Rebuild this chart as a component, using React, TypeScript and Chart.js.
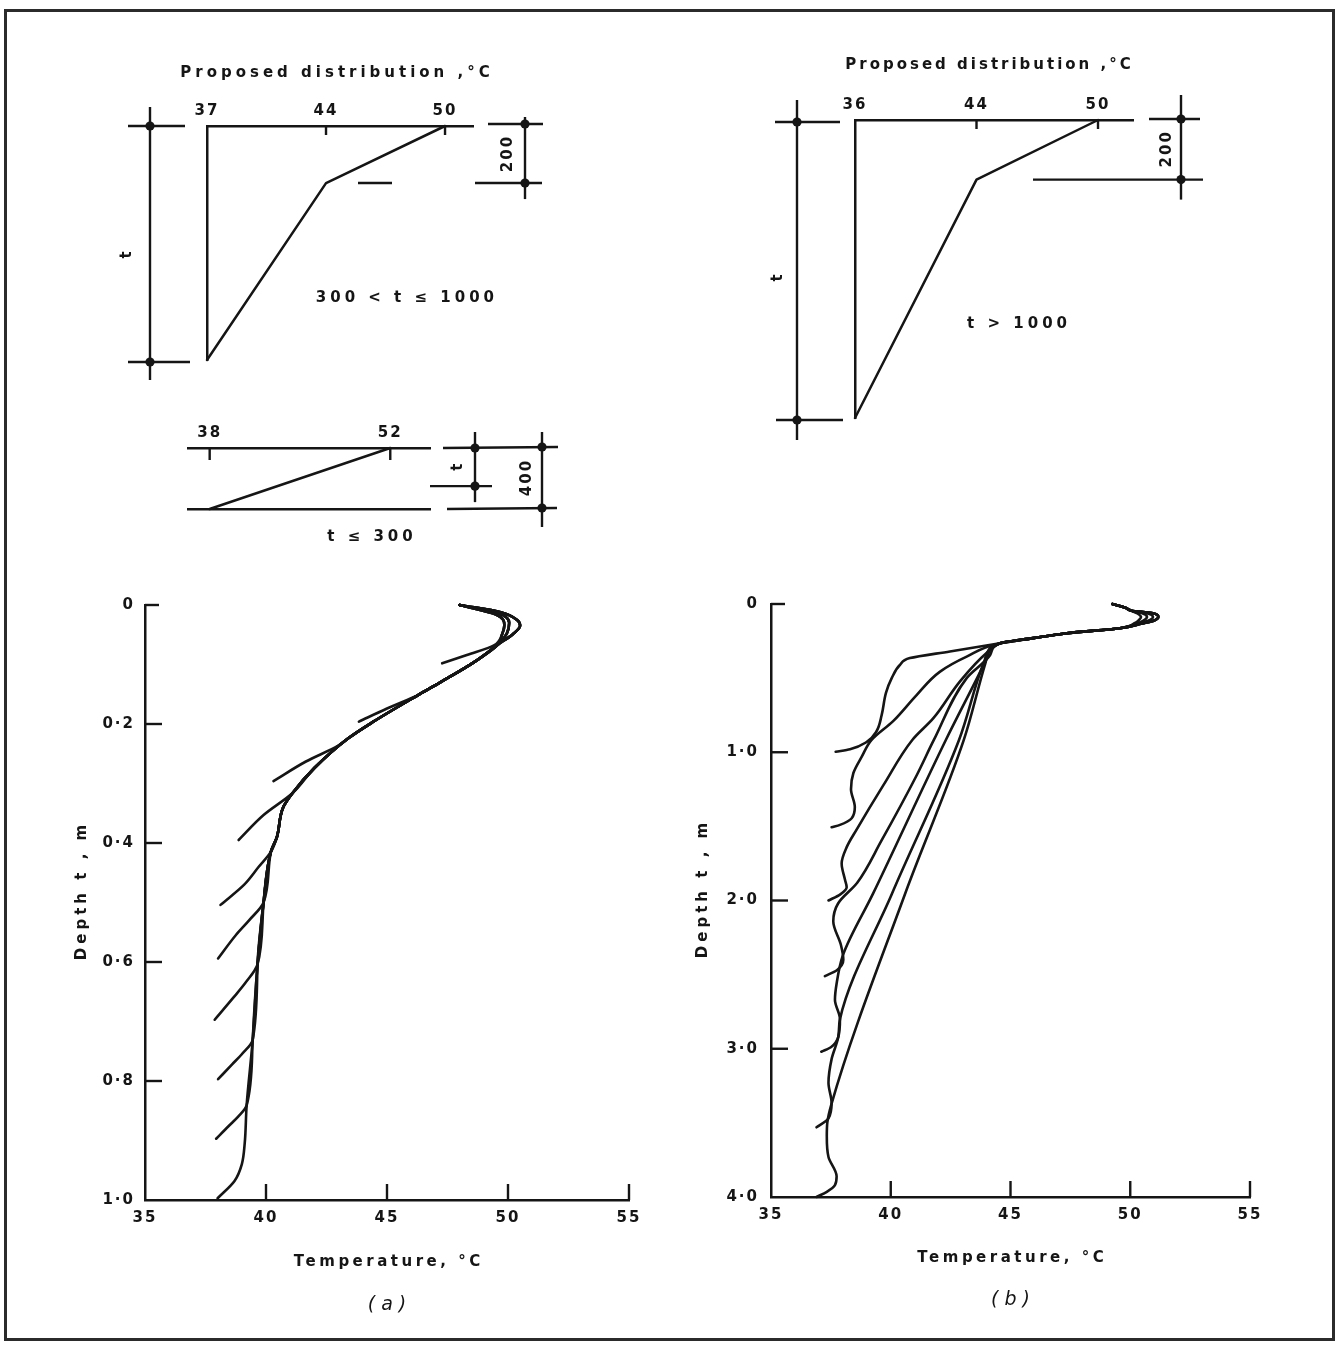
import React, { useEffect, useRef } from 'react';
import { Chart, registerables } from 'chart.js';

Chart.register(...registerables);

const INK = '#151515';
const FAMILY = '"DejaVu Sans", "Liberation Sans", Arial, sans-serif';
const BOLD15 = `bold 15px ${FAMILY}`;

// ================= main charts: axes =================
const TEMP_TICKS = [35, 40, 45, 50, 55];
const TEMP_TICK_LABELS = ['35', '40', '45', '50', '55'];
const DEPTH_TICKS_A = [0, 0.2, 0.4, 0.6, 0.8, 1.0];
const DEPTH_LABELS_A = ['0', '0·2', '0·4', '0·6', '0·8', '1·0'];
const DEPTH_TICKS_B = [0, 1, 2, 3, 4];
const DEPTH_LABELS_B = ['0', '1·0', '2·0', '3·0', '4·0'];

type P = [number, number]; // [temperature °C, depth m]

// ================= (a) slab thickness 0.1 ... 1.0 m =================
const A_THICKNESS = [0.1, 0.2, 0.3, 0.4, 0.5, 0.6, 0.7, 0.8, 0.9, 1.0];
const A_TOP_INNER: P[] = [[48.0, 0.0], [49.5, 0.016], [49.85, 0.034], [49.75, 0.05]];
const A_TOP_MID: P[] = [[48.0, 0.0], [49.6, 0.014], [50.05, 0.03], [49.95, 0.048]];
const A_TOP_OUTER: P[] = [[48.0, 0.0], [49.7, 0.012], [50.4, 0.026], [50.5, 0.035], [50.2, 0.049]];
const A_COMMON: P[] = [
  [49.6, 0.066], [48.6, 0.096], [47.2, 0.13], [46.3, 0.151], [44.4, 0.197], [43.4, 0.224],
  [42.0, 0.274], [41.1, 0.316], [40.7, 0.341], [40.45, 0.39], [40.2, 0.415], [39.9, 0.5],
  [39.65, 0.604], [39.45, 0.731], [39.2, 0.841], [39.12, 0.905], [39.0, 0.94], [38.7, 0.968], [38.0, 0.997],
];
const A_LEAVE_AT = [0.05, 0.151, 0.224, 0.316, 0.415, 0.5, 0.604, 0.731, 0.841, 1.0];
const A_TAILS: P[][] = [
  [[49.42, 0.068], [48.3, 0.084], [47.28, 0.098]],
  [[45.0, 0.174], [43.84, 0.196]],
  [[43.0, 0.236], [41.65, 0.263], [40.31, 0.296]],
  [[39.9, 0.353], [38.87, 0.395]],
  [[39.7, 0.44], [39.1, 0.47], [38.12, 0.504]],
  [[39.3, 0.53], [38.75, 0.555], [38.02, 0.594]],
  [[39.15, 0.635], [38.65, 0.66], [37.88, 0.697]],
  [[39.0, 0.755], [38.6, 0.772], [38.02, 0.797]],
  [[38.85, 0.86], [38.45, 0.876], [37.94, 0.897]],
  [],
];
const A_TOPS = [A_TOP_INNER, A_TOP_MID, A_TOP_OUTER];
const A_TOP_OF = [0, 1, 2, 0, 1, 2, 0, 1, 2, 2];

// ================= (b) slab thickness 1.0 ... 4.0 m =================
const B_THICKNESS = [1.0, 1.5, 2.0, 2.5, 3.0, 3.5, 4.0];
const B_START: P[] = [[49.25, 0.0], [49.8, 0.025], [50.05, 0.045]];
const B_LOOPS: P[][] = [
  [[50.3, 0.064], [50.45, 0.088], [50.35, 0.11], [50.2, 0.128]],
  [[50.5, 0.063], [50.7, 0.088], [50.55, 0.112], [50.3, 0.129]],
  [[50.7, 0.062], [50.95, 0.088], [50.75, 0.113], [50.4, 0.13]],
  [[50.9, 0.061], [51.17, 0.088], [50.95, 0.114], [50.5, 0.131]],
];
const B_LOOP_OF = [0, 1, 2, 3, 3, 3, 3];
const B_COMMON: P[] = [[49.57, 0.163], [47.35, 0.197], [45.95, 0.23], [44.56, 0.265]];
const B_TAILS: P[][] = [
  [[42.47, 0.32], [40.8, 0.365], [40.39, 0.41], [40.04, 0.5], [39.8, 0.6], [39.62, 0.75], [39.4, 0.86], [39.0, 0.93], [38.3, 0.98], [37.7, 0.997]],
  [[43.17, 0.355], [42.06, 0.456], [41.08, 0.614], [40.1, 0.79], [39.2, 0.917], [38.79, 1.03], [38.44, 1.14], [38.34, 1.25], [38.5, 1.37], [38.37, 1.445], [37.88, 1.49], [37.53, 1.506]],
  [[44.0, 0.33], [42.9, 0.52], [41.78, 0.77], [40.9, 0.917], [39.7, 1.22], [38.58, 1.52], [38.16, 1.64], [37.95, 1.75], [38.09, 1.86], [38.16, 1.91], [37.88, 1.96], [37.4, 2.0]],
  [[44.15, 0.344], [43.17, 0.5], [41.8, 0.917], [41.1, 1.15], [39.6, 1.6], [38.6, 1.88], [37.8, 2.02], [37.6, 2.14], [37.92, 2.3], [38.02, 2.4], [37.75, 2.47], [37.25, 2.51]],
  [[44.0, 0.37], [42.3, 0.917], [39.26, 1.954], [38.0, 2.37], [37.74, 2.56], [37.67, 2.67], [37.88, 2.8], [37.81, 2.92], [37.5, 2.99], [37.1, 3.02]],
  [[43.9, 0.39], [42.85, 0.917], [40.05, 1.954], [37.88, 2.8], [37.81, 2.92], [37.53, 3.07], [37.4, 3.23], [37.53, 3.365], [37.4, 3.47], [36.9, 3.53]],
  [[43.95, 0.4], [43.05, 0.917], [40.6, 1.954], [37.53, 3.37], [37.35, 3.5], [37.33, 3.59], [37.4, 3.73], [37.74, 3.86], [37.67, 3.92], [37.33, 3.965], [36.9, 4.0]],
];

// ================= proposed distributions (schematics) =================
const S1_LABELS = ['37', '44', '50'];
const S1_PROFILE_T = [50, 44, 37];
const S1_T_DRAWN = 820;
const S1_PROFILE_D = [0, 200, S1_T_DRAWN];

const S2_LABELS = ['36', '44', '50'];
const S2_PROFILE_T = [50, 44, 36];
const S2_T_DRAWN = 1000;
const S2_PROFILE_D = [0, 200, S2_T_DRAWN];

const S3_LABELS = ['38', '52'];
const S3_PROFILE_T = [52, 38];
const S3_PROFILE_D = [0, 400];
const S3_T_DRAWN = 250;

// ================= helpers =================
function toXY(pts: P[]) {
  return pts.map(([t, d]) => ({ x: t, y: d }));
}

function curveA(i: number): P[] {
  const top = A_TOPS[A_TOP_OF[i]];
  const common = A_COMMON.filter((p) => p[1] <= A_LEAVE_AT[i]);
  return [...top, ...common, ...A_TAILS[i]];
}

function curveB(i: number): P[] {
  return [...B_START, ...B_LOOPS[B_LOOP_OF[i]], ...B_COMMON, ...B_TAILS[i]];
}

function seg(ctx: CanvasRenderingContext2D, x1: number, y1: number, x2: number, y2: number) {
  ctx.beginPath();
  ctx.moveTo(x1, y1);
  ctx.lineTo(x2, y2);
  ctx.stroke();
}

function dot(ctx: CanvasRenderingContext2D, x: number, y: number) {
  ctx.beginPath();
  ctx.arc(x, y, 4.6, 0, Math.PI * 2);
  ctx.fill();
}

function txt(
  ctx: CanvasRenderingContext2D,
  s: string,
  x: number,
  y: number,
  font: string,
  spacing = 0,
  rot = 0,
) {
  ctx.save();
  ctx.translate(x, y);
  if (rot) ctx.rotate(rot);
  ctx.font = font;
  ctx.fillStyle = INK;
  ctx.textAlign = 'center';
  ctx.textBaseline = 'middle';
  (ctx as any).letterSpacing = `${spacing}px`;
  ctx.fillText(s, spacing / 2, 0);
  ctx.restore();
}

function lineDataset(pts: P[]) {
  return {
    data: toXY(pts),
    borderColor: INK,
    borderWidth: 2.6,
    pointRadius: 0,
    pointHoverRadius: 0,
    fill: false,
    clip: false,
    cubicInterpolationMode: 'monotone',
    borderCapStyle: 'round',
    borderJoinStyle: 'round',
  };
}

// ================= main chart config =================
type MainCfg = {
  datasets: any[];
  yTicks: number[];
  yLabels: string[];
  yMax: number;
  padding: { left: number; top: number; right: number; bottom: number };
  yWidth: number;
  yLabelPad: number;
  yTitleOff: number;
  xTitleOff: number;
  captionOff: number;
  caption: string;
};

function mainConfig(c: MainCfg): any {
  const inkPlugin = {
    id: 'mainInk',
    beforeDraw(chart: any) {
      (chart.ctx as any).letterSpacing = '2px';
    },
    afterDraw(chart: any) {
      const ctx: CanvasRenderingContext2D = chart.ctx;
      const ca = chart.chartArea;
      const xs = chart.scales.x;
      const ys = chart.scales.y;
      ctx.save();
      ctx.strokeStyle = INK;
      ctx.fillStyle = INK;
      ctx.lineWidth = 2.4;
      ys.ticks.forEach((t: any, i: number) => {
        if (t.value === c.yMax) return;
        const py = ys.getPixelForValue(t.value);
        seg(ctx, ca.left, py, ca.left + (i === 0 ? 14 : 17), py);
      });
      xs.ticks.forEach((t: any) => {
        if (t.value === TEMP_TICKS[0]) return;
        const px = xs.getPixelForValue(t.value);
        seg(ctx, px, ca.bottom, px, ca.bottom - 16);
      });
      const cx = (ca.left + ca.right) / 2;
      txt(ctx, 'Temperature, °C', cx, ca.bottom + c.xTitleOff, BOLD15, 3.5);
      txt(ctx, 'Depth t , m', ca.left - c.yTitleOff, (ca.top + ca.bottom) / 2 - 10, BOLD15, 4, -Math.PI / 2);
      txt(ctx, c.caption, cx, ca.bottom + c.captionOff, `italic 19px ${FAMILY}`, 6);
      ctx.restore();
    },
  };
  return {
    type: 'line',
    data: { datasets: c.datasets },
    options: {
      animation: false,
      responsive: false,
      devicePixelRatio: 1,
      indexAxis: 'y',
      layout: { padding: c.padding },
      plugins: { legend: { display: false }, tooltip: { enabled: false }, title: { display: false } },
      scales: {
        x: {
          type: 'linear',
          position: 'bottom',
          min: TEMP_TICKS[0],
          max: TEMP_TICKS[TEMP_TICKS.length - 1],
          afterBuildTicks: (s: any) => {
            s.ticks = TEMP_TICKS.map((v) => ({ value: v }));
          },
          afterFit: (s: any) => {
            s.height = 40;
          },
          grid: { display: true, drawOnChartArea: false, drawTicks: false, color: 'rgba(0,0,0,0)' },
          border: { display: true, color: INK, width: 2.5 },
          ticks: {
            padding: 9,
            color: INK,
            font: { family: FAMILY, size: 15, weight: 'bold' },
            maxRotation: 0,
            autoSkip: false,
            callback: (v: number) => TEMP_TICK_LABELS[TEMP_TICKS.indexOf(v)] ?? '',
          },
        },
        y: {
          type: 'linear',
          position: 'left',
          reverse: true,
          min: 0,
          max: c.yMax,
          afterBuildTicks: (s: any) => {
            s.ticks = c.yTicks.map((v) => ({ value: v }));
          },
          afterFit: (s: any) => {
            s.width = c.yWidth;
          },
          grid: { display: true, drawOnChartArea: false, drawTicks: false, color: 'rgba(0,0,0,0)' },
          border: { display: true, color: INK, width: 2.5 },
          ticks: {
            padding: c.yLabelPad,
            color: INK,
            font: { family: FAMILY, size: 15, weight: 'bold' },
            autoSkip: false,
            callback: (v: number) => c.yLabels[c.yTicks.indexOf(v)] ?? '',
          },
        },
      },
    },
    plugins: [inkPlugin],
  };
}

// ================= schematic config =================
type SchemCfg = {
  labels: string[];
  profileT: number[];
  profileD: number[];
  yMax: number;
  xMin: number;
  xMax: number;
  padding: { left: number; top: number; right: number; bottom: number };
  leftLine: boolean;
  bottomLine: boolean;
  inward: number[];
  tickLen: number;
  draw: (ctx: CanvasRenderingContext2D, ca: any, yp: (d: number) => number) => void;
};

function schemConfig(c: SchemCfg): any {
  const pts: P[] = c.profileT.map((t, i) => [c.labels.indexOf(String(t)), c.profileD[i]]);
  const ink = {
    id: 'schemInk',
    beforeDraw(chart: any) {
      (chart.ctx as any).letterSpacing = '2px';
    },
    afterDraw(chart: any) {
      const ctx: CanvasRenderingContext2D = chart.ctx;
      const ca = chart.chartArea;
      const ys = chart.scales.y;
      const xs = chart.scales.x;
      ctx.save();
      ctx.strokeStyle = INK;
      ctx.fillStyle = INK;
      ctx.lineWidth = 2.4;
      c.inward.forEach((i) => {
        const px = xs.getPixelForValue(i);
        seg(ctx, px, ca.top, px, ca.top + c.tickLen);
      });
      c.draw(ctx, ca, (d) => ys.getPixelForValue(d));
      ctx.restore();
    },
  };
  const scales: any = {
    x: {
      type: 'linear',
      position: 'top',
      min: c.xMin,
      max: c.xMax,
      afterBuildTicks: (s: any) => {
        s.ticks = c.labels.map((_, i) => ({ value: i }));
      },
      afterFit: (s: any) => {
        s.height = 30;
      },
      grid: { display: true, drawOnChartArea: false, drawTicks: false, color: 'rgba(0,0,0,0)' },
      border: { display: true, color: INK, width: 2.5 },
      ticks: {
        padding: 6,
        color: INK,
        font: { family: FAMILY, size: 15, weight: 'bold' },
        maxRotation: 0,
        autoSkip: false,
        callback: (v: number) => c.labels[v] ?? '',
      },
    },
    y: {
      type: 'linear',
      position: 'left',
      reverse: true,
      min: 0,
      max: c.yMax,
      afterFit: (s: any) => {
        s.width = 0;
      },
      grid: { display: true, drawOnChartArea: false, drawTicks: false, color: 'rgba(0,0,0,0)' },
      border: { display: c.leftLine, color: INK, width: 2.5 },
      ticks: { display: false },
    },
  };
  if (c.bottomLine) {
    scales.x2 = {
      type: 'linear',
      position: 'bottom',
      min: c.xMin,
      max: c.xMax,
      afterFit: (s: any) => {
        s.height = 0;
      },
      grid: { display: true, drawOnChartArea: false, drawTicks: false, color: 'rgba(0,0,0,0)' },
      border: { display: true, color: INK, width: 2.5 },
      ticks: { display: false },
    };
  }
  const ds: any = lineDataset(pts);
  ds.cubicInterpolationMode = 'default';
  ds.tension = 0;
  ds.borderWidth = 2.5;
  return {
    type: 'line',
    data: { datasets: [ds] },
    options: {
      animation: false,
      responsive: false,
      devicePixelRatio: 1,
      indexAxis: 'y',
      layout: { padding: c.padding },
      plugins: { legend: { display: false }, tooltip: { enabled: false }, title: { display: false } },
      scales,
    },
    plugins: [ink],
  };
}

// ================= configs =================
const configA = () =>
  mainConfig({
    datasets: A_THICKNESS.map((_, i) => lineDataset(curveA(i))),
    yTicks: DEPTH_TICKS_A,
    yLabels: DEPTH_LABELS_A,
    yMax: 1.0,
    padding: { left: 0, top: 45, right: 51, bottom: 100 },
    yWidth: 105,
    yLabelPad: 10,
    yTitleOff: 63,
    xTitleOff: 62,
    captionOff: 105,
    caption: '(a)',
  });

const configB = () =>
  mainConfig({
    datasets: B_THICKNESS.map((_, i) => lineDataset(curveB(i))),
    yTicks: DEPTH_TICKS_B,
    yLabels: DEPTH_LABELS_B,
    yMax: 4.0,
    padding: { left: 0, top: 44, right: 70, bottom: 103 },
    yWidth: 91,
    yLabelPad: 12,
    yTitleOff: 68,
    xTitleOff: 61,
    captionOff: 103,
    caption: '(b)',
  });

const TITLE = 'Proposed distribution ,°C';

const configS1 = () =>
  schemConfig({
    labels: S1_LABELS,
    profileT: S1_PROFILE_T,
    profileD: S1_PROFILE_D,
    yMax: S1_T_DRAWN,
    xMin: 0,
    xMax: 2.235,
    padding: { left: 107, top: 56, right: 107, bottom: 40 },
    leftLine: true,
    bottomLine: false,
    inward: [1, 2],
    tickLen: 9,
    draw: (ctx, ca, yp) => {
      const y0 = yp(0);
      const y200 = yp(200);
      const yt = yp(S1_T_DRAWN);
      seg(ctx, ca.left - 57, y0 - 19, ca.left - 57, yt + 20);
      seg(ctx, ca.left - 79, y0, ca.left - 22, y0);
      seg(ctx, ca.left - 79, yt + 2, ca.left - 17, yt + 2);
      dot(ctx, ca.left - 57, y0);
      dot(ctx, ca.left - 57, yt + 2);
      txt(ctx, 't', ca.left - 80, (y0 + yt) / 2 + 12, BOLD15, 0, -Math.PI / 2);
      seg(ctx, ca.right + 15, y0 - 2, ca.right + 70, y0 - 2);
      seg(ctx, ca.right + 2, y200, ca.right + 69, y200);
      seg(ctx, ca.right + 52, y0 - 9, ca.right + 52, y200 + 16);
      dot(ctx, ca.right + 52, y0 - 2);
      dot(ctx, ca.right + 52, y200);
      txt(ctx, '200', ca.right + 35, (y0 + y200) / 2, BOLD15, 2, -Math.PI / 2);
      seg(ctx, ca.left + 151, y200, ca.left + 185, y200);
      const w = ca.right - ca.left;
      const h = ca.bottom - ca.top;
      txt(ctx, TITLE, (ca.left + ca.right) / 2 - 5, ca.top - 53, BOLD15, 4);
      txt(ctx, '300 < t ≤ 1000', ca.left + 0.744 * w, ca.top + 0.735 * h, BOLD15, 4);
    },
  });

const configS2 = () =>
  schemConfig({
    labels: S2_LABELS,
    profileT: S2_PROFILE_T,
    profileD: S2_PROFILE_D,
    yMax: S2_T_DRAWN,
    xMin: 0,
    xMax: 2.288,
    padding: { left: 115, top: 60, right: 97, bottom: 42 },
    leftLine: true,
    bottomLine: false,
    inward: [1, 2],
    tickLen: 9,
    draw: (ctx, ca, yp) => {
      const y0 = yp(0);
      const y200 = yp(200);
      const yt = yp(S2_T_DRAWN);
      seg(ctx, ca.left - 58, y0 - 20, ca.left - 58, yt + 22);
      seg(ctx, ca.left - 80, y0 + 2, ca.left - 15, y0 + 2);
      seg(ctx, ca.left - 79, yt + 2, ca.left - 12, yt + 2);
      dot(ctx, ca.left - 58, y0 + 2);
      dot(ctx, ca.left - 58, yt + 2);
      txt(ctx, 't', ca.left - 77, (y0 + yt) / 2 + 9, BOLD15, 0, -Math.PI / 2);
      seg(ctx, ca.right + 16, y0 - 1, ca.right + 67, y0 - 1);
      seg(ctx, ca.right - 100, y200, ca.right + 70, y200);
      seg(ctx, ca.right + 48, y0 - 25, ca.right + 48, y200 + 20);
      dot(ctx, ca.right + 48, y0 - 1);
      dot(ctx, ca.right + 48, y200);
      txt(ctx, '200', ca.right + 34, (y0 + y200) / 2, BOLD15, 2, -Math.PI / 2);
      const w = ca.right - ca.left;
      const h = ca.bottom - ca.top;
      txt(ctx, TITLE, (ca.left + ca.right) / 2 - 6, ca.top - 55, BOLD15, 3);
      txt(ctx, 't > 1000', ca.left + 0.583 * w, ca.top + 0.685 * h, BOLD15, 4);
    },
  });

const configS3 = () =>
  schemConfig({
    labels: S3_LABELS,
    profileT: S3_PROFILE_T,
    profileD: S3_PROFILE_D,
    yMax: S3_PROFILE_D[S3_PROFILE_D.length - 1],
    xMin: -0.12,
    xMax: 1.22,
    padding: { left: 68, top: 18, right: 170, bottom: 51 },
    leftLine: false,
    bottomLine: true,
    inward: [0, 1],
    tickLen: 12,
    draw: (ctx, ca, yp) => {
      const y0 = yp(0);
      const yt = yp(S3_T_DRAWN);
      const y4 = yp(400);
      seg(ctx, ca.right + 13, y0, ca.right + 128, y0 - 1);
      seg(ctx, ca.right + 0, yt, ca.right + 62, yt);
      seg(ctx, ca.right + 17, y4, ca.right + 127, y4 - 1);
      seg(ctx, ca.right + 45, y0 - 16, ca.right + 45, yt + 16);
      dot(ctx, ca.right + 45, y0);
      dot(ctx, ca.right + 45, yt);
      seg(ctx, ca.right + 112, y0 - 16, ca.right + 112, y4 + 18);
      dot(ctx, ca.right + 112, y0 - 1);
      dot(ctx, ca.right + 112, y4 - 1);
      txt(ctx, 't', ca.right + 28, (y0 + yt) / 2, BOLD15, 0, -Math.PI / 2);
      txt(ctx, '400', ca.right + 97, (y0 + y4) / 2, BOLD15, 2, -Math.PI / 2);
      txt(ctx, 't ≤ 300', ca.left + 182, ca.bottom + 28, BOLD15, 4);
    },
  });

// ================= components =================
function ChartCanvas(props: { left: number; top: number; width: number; height: number; make: () => any }) {
  const ref = useRef<HTMLCanvasElement | null>(null);
  useEffect(() => {
    if (!ref.current) return;
    const chart = new Chart(ref.current, props.make());
    return () => chart.destroy();
  }, []);
  return (
    <canvas
      ref={ref}
      width={props.width}
      height={props.height}
      style={{ position: 'absolute', left: props.left, top: props.top, width: props.width, height: props.height }}
    />
  );
}

export default function App() {
  return (
    <div
      style={{
        position: 'absolute',
        left: 0,
        top: 0,
        width: 1339,
        height: 1345,
        background: '#ffffff',
        overflow: 'hidden',
      }}
    >
      <div
        style={{
          position: 'absolute',
          left: 4,
          top: 9,
          width: 1331,
          height: 1332,
          border: '3px solid #2b2b2b',
          boxSizing: 'border-box',
        }}
      />
      <ChartCanvas left={100} top={40} width={480} height={360} make={configS1} />
      <ChartCanvas left={120} top={400} width={480} height={160} make={configS3} />
      <ChartCanvas left={740} top={30} width={490} height={430} make={configS2} />
      <ChartCanvas left={40} top={560} width={640} height={780} make={configA} />
      <ChartCanvas left={680} top={560} width={640} height={780} make={configB} />
    </div>
  );
}
